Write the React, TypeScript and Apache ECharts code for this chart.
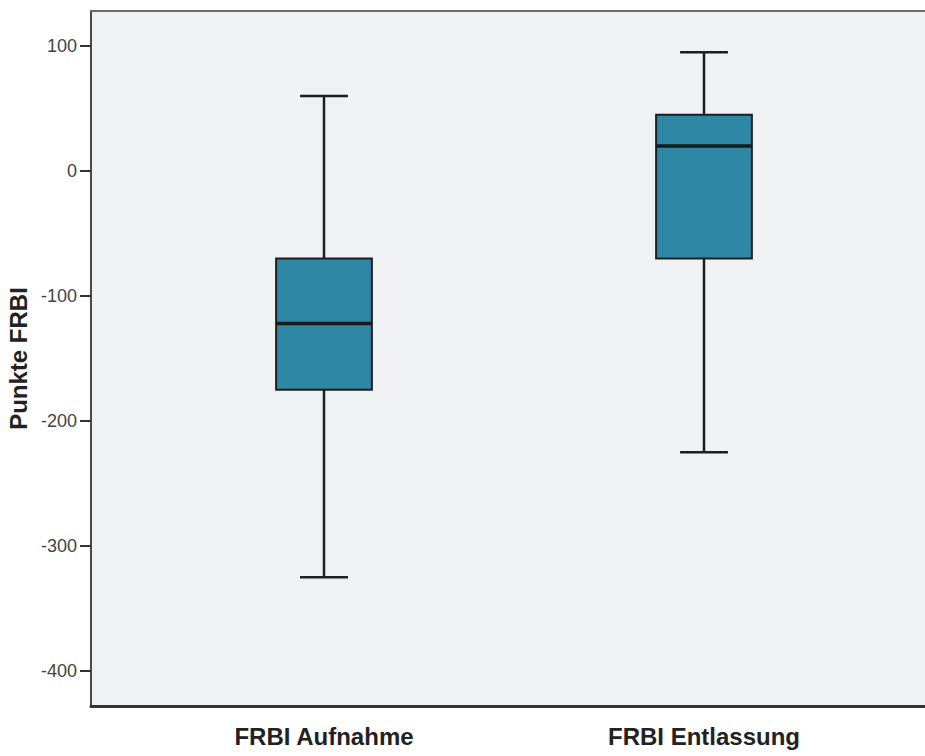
import React, { useEffect, useRef } from "react";
import * as echarts from "echarts";

const categories = ["FRBI Aufnahme", "FRBI Entlassung"];
const whiskerLow = [-325, -225];
const quartile1 = [-175, -70];
const medians = [-122, 20];
const quartile3 = [-70, 45];
const whiskerHigh = [60, 95];
const yTicks = { min: -400, max: 100, step: 100 };

export default function App() {
  const ref = useRef<HTMLDivElement>(null);
  useEffect(() => {
    if (!ref.current) return;
    const chart = echarts.init(ref.current, undefined, { renderer: "svg" });
    const data = categories.map((_, i) => [
      i,
      whiskerLow[i],
      quartile1[i],
      medians[i],
      quartile3[i],
      whiskerHigh[i],
    ]);
    const stroke = "#1e1e1e";
    const font = "'Liberation Sans', Arial, sans-serif";
    const option: any = {
      animation: false,
      backgroundColor: "#ffffff",
      textStyle: { fontFamily: font },
      grid: [
        {
          left: 91,
          top: 11,
          width: 834,
          height: 695,
          outerBoundsMode: "none",
          containLabel: false,
          show: true,
          backgroundColor: "#f0f1f3",
          borderWidth: 0,
        },
        {
          left: 134,
          top: 46,
          width: 760,
          height: 625,
          outerBoundsMode: "none",
          containLabel: false,
        },
      ],
      xAxis: [
        {
          gridIndex: 0,
          type: "value",
          min: 0,
          max: 1,
          position: "bottom",
          axisLine: { show: true, onZero: false, lineStyle: { color: "#333333", width: 3 } },
          axisTick: { show: false },
          axisLabel: { show: false },
          splitLine: { show: false },
        },
        {
          gridIndex: 0,
          type: "value",
          min: 0,
          max: 1,
          position: "top",
          axisLine: { show: true, onZero: false, lineStyle: { color: "#6a6a6a", width: 2 } },
          axisTick: { show: false },
          axisLabel: { show: false },
          splitLine: { show: false },
        },
        {
          gridIndex: 1,
          type: "category",
          data: categories,
          offset: 35,
          axisLine: { show: false },
          axisTick: {
            show: true,
            alignWithLabel: true,
            length: 15,
            lineStyle: { color: "#333333", width: 2 },
          },
          axisLabel: {
            margin: 18,
            fontSize: 24,
            fontWeight: "bold",
            color: "#222222",
            fontFamily: font,
          },
          splitLine: { show: false },
        },
      ],
      yAxis: [
        {
          gridIndex: 0,
          type: "value",
          min: 0,
          max: 1,
          position: "left",
          axisLine: { show: true, onZero: false, lineStyle: { color: "#4a4a4a", width: 2 } },
          axisTick: { show: false },
          axisLabel: { show: false },
          splitLine: { show: false },
        },
        {
          gridIndex: 1,
          type: "value",
          min: yTicks.min,
          max: yTicks.max,
          interval: yTicks.step,
          offset: 43,
          name: "Punkte FRBI",
          nameLocation: "middle",
          nameGap: 55,
          nameTextStyle: {
            fontSize: 24,
            fontWeight: "bold",
            color: "#222222",
            fontFamily: font,
          },
          axisLine: { show: false },
          axisTick: {
            show: true,
            length: 11,
            lineStyle: { color: "#333333", width: 2 },
          },
          axisLabel: {
            margin: 14,
            fontSize: 18,
            color: "#444444",
            fontFamily: font,
          },
          splitLine: { show: false },
        },
      ],
      series: [
        {
          type: "custom",
          xAxisIndex: 2,
          yAxisIndex: 1,
          data,
          encode: { x: 0, y: [1, 2, 3, 4, 5] },
          renderItem: (params: any, api: any) => {
            const x = api.value(0);
            const low = api.coord([x, api.value(1)]);
            const q1 = api.coord([x, api.value(2)]);
            const med = api.coord([x, api.value(3)]);
            const q3 = api.coord([x, api.value(4)]);
            const high = api.coord([x, api.value(5)]);
            const band = api.size([1, 0])[0];
            const boxHalf = band * 0.126;
            const capHalf = band * 0.063;
            const cx = Math.round(low[0]);
            const lineStyle = { stroke, lineWidth: 2.5 };
            return {
              type: "group",
              children: [
                {
                  type: "line",
                  shape: { x1: cx, y1: high[1], x2: cx, y2: low[1] },
                  style: lineStyle,
                },
                {
                  type: "line",
                  shape: { x1: cx - capHalf, y1: high[1], x2: cx + capHalf, y2: high[1] },
                  style: lineStyle,
                },
                {
                  type: "line",
                  shape: { x1: cx - capHalf, y1: low[1], x2: cx + capHalf, y2: low[1] },
                  style: lineStyle,
                },
                {
                  type: "rect",
                  shape: {
                    x: cx - boxHalf,
                    y: q3[1],
                    width: boxHalf * 2,
                    height: q1[1] - q3[1],
                  },
                  style: { fill: "#2e87a5", stroke, lineWidth: 2 },
                },
                {
                  type: "line",
                  shape: { x1: cx - boxHalf, y1: med[1], x2: cx + boxHalf, y2: med[1] },
                  style: { stroke: "#1a1a1a", lineWidth: 3.5 },
                },
              ],
            };
          },
        },
      ],
    };
    chart.setOption(option);
    return () => chart.dispose();
  }, []);
  return (
    <div
      ref={ref}
      style={{ position: "absolute", left: 0, top: 0, width: 925, height: 756 }}
    />
  );
}
